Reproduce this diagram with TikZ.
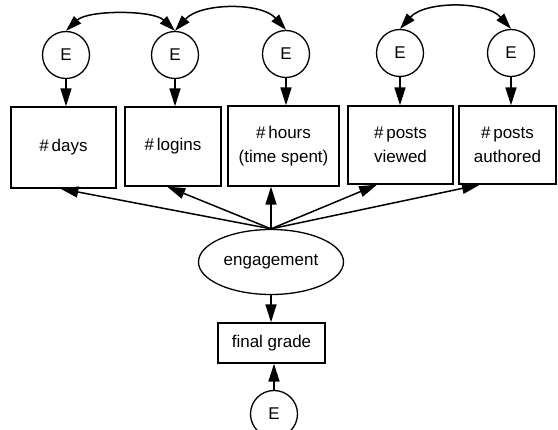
\documentclass[tikz,border=0pt]{standalone}
\usepackage{fontspec}
\setmainfont{Liberation Sans}
\usetikzlibrary{arrows.meta,calc,shapes.geometric}
\begin{document}
\begin{tikzpicture}[x=1pt,y=-1pt,
  every node/.style={font=\fontsize{17}{24}\selectfont},
  ind/.style={draw,line width=1.3pt,rectangle,inner sep=0pt,align=center},
  err/.style={draw,line width=1.3pt,circle,minimum size=47pt,inner sep=0pt},
  lat/.style={draw,line width=1.3pt,ellipse,minimum width=145pt,minimum height=65pt,inner sep=0pt},
  path/.style={line width=1.5pt,-{Triangle[length=18pt,width=11pt]}},
  cov/.style={line width=1.5pt,{Triangle[length=16pt,width=10pt]}-{Triangle[length=16pt,width=10pt]}}]
\useasboundingbox (0,0) rectangle (558,430);
\clip (0,0) rectangle (558,430);

% observed indicators
\node[ind,minimum width=105pt,minimum height=81pt] (days) at (63.5,147.5) {\#\,days};
\node[ind,minimum width=96pt,minimum height=79pt] (logins) at (173,146.5) {\#\,logins};
\node[ind,minimum width=111pt,minimum height=80pt] (hours) at (283.5,146) {\#\,hours\\(time spent)};
\node[ind,minimum width=105pt,minimum height=78pt] (viewed) at (400.5,145) {\#\,posts\\viewed};
\node[ind,minimum width=97pt,minimum height=78pt] (authored) at (507.5,145) {\#\,posts\\authored};

% error terms
\node[err] (e1) at (66,55) {E};
\node[err] (e2) at (175,55) {E};
\node[err] (e3) at (286,54) {E};
\node[err] (e4) at (400,53) {E};
\node[err] (e5) at (511,53) {E};

% latent factor and outcome
\node[lat] (eng) at (271,262) {engagement};
\node[ind,minimum width=107pt,minimum height=40pt] (grade) at (271.5,343) {final grade};
\node[err] (e6) at (274,414) {E};

% error paths
\foreach \e/\b in {e1/days,e2/logins,e3/hours,e4/viewed,e5/authored}
  \draw[path] (\e.south) -- (\e.south |- \b.north);

% loadings
\draw[path] (eng.north) -- ($(days.south west)!0.47!(days.south east)$);
\draw[path] (eng.north) -- ($(logins.south west)!0.44!(logins.south east)$);
\draw[path] (eng.north) -- (eng.north |- hours.south);
\draw[path] (eng.north) -- ($(viewed.south west)!0.28!(viewed.south east)$);
\draw[path] (eng.north) -- ($(authored.south west)!0.22!(authored.south east)$);

% structural path and its error
\draw[path] (eng.south) -- (eng.south |- grade.north);
\draw[path] (e6.north) -- (e6.north |- grade.south);

% error covariances
\draw[cov] (e1.north) .. controls +(22,-21) and +(-22,-21) .. (e2.north);
\draw[cov] (e2.north) .. controls +(25,-28) and +(-25,-28) .. (e3.north);
\draw[cov] (e4.north) .. controls +(25,-28) and +(-25,-28) .. (e5.north);
\end{tikzpicture}
\end{document}
